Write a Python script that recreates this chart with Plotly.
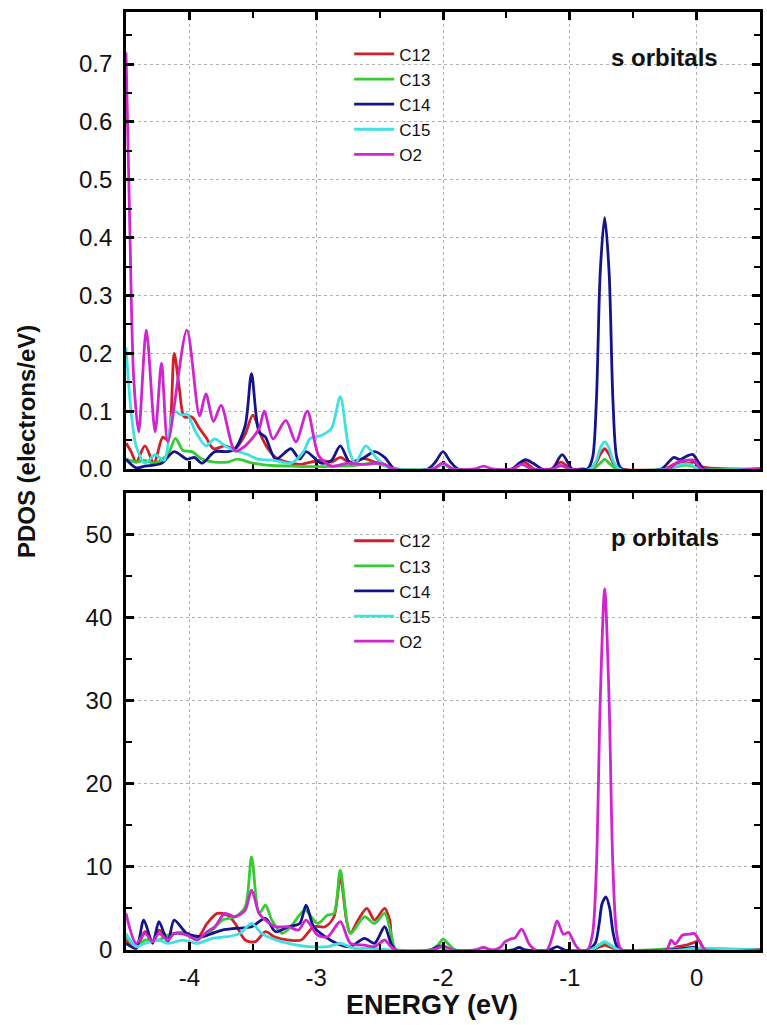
import plotly.graph_objects as go

# ---------------- s-orbital PDOS (electrons/eV) ----------------
s_c12_e = [-4.50, -4.46, -4.42, -4.35, -4.28, -4.21, -4.17, -4.12, -4.08, -4.04, -3.98, -3.92, -3.87, -3.81,
           -3.72, -3.64, -3.56, -3.50, -3.43, -3.38, -3.32, -3.20, -3.12, -3.04, -2.96, -2.88, -2.81, -2.74,
           -2.62, -2.54, -2.49, -2.42, -2.38,
           -2.08, -2.00, -1.93, -1.45, -1.36, -1.28, -1.15, -1.07, -0.99, -0.86, -0.80, -0.76, -0.725, -0.69,
           -0.65, -0.58, -0.25, -0.18, -0.12, -0.06, -0.02, 0.03, 0.50]
s_c12_v = [0.045, 0.03, 0.012, 0.04, 0.01, 0.055, 0.05, 0.20, 0.14, 0.09, 0.09, 0.07, 0.055, 0.035,
           0.04, 0.035, 0.06, 0.093, 0.055, 0.035, 0.02, 0.01, 0.008, 0.012, 0.015, 0.012, 0.02, 0.012,
           0.018, 0.012, 0.01, 0.003, 0.0,
           0.0, 0.01, 0.0, 0.0, 0.012, 0.0, 0.0, 0.012, 0.0, 0.0, 0.008, 0.025, 0.035, 0.025,
           0.008, 0.0, 0.0, 0.008, 0.012, 0.01, 0.012, 0.004, 0.0]

s_c13_e = [-4.50, -4.42, -4.35, -4.28, -4.17, -4.11, -4.05, -3.98, -3.90, -3.80, -3.70, -3.62, -3.50, -3.35,
           -3.20, -3.00, -2.85, -2.70, -2.55, -2.45, -2.38,
           -2.08, -2.00, -1.92, -0.82, -0.76, -0.725, -0.69, -0.63, -0.22, -0.12, -0.05, 0.02, 0.50]
s_c13_v = [0.017, 0.012, 0.015, 0.01, 0.025, 0.053, 0.032, 0.03, 0.017, 0.012, 0.012, 0.017, 0.01, 0.006,
           0.005, 0.004, 0.005, 0.006, 0.01, 0.005, 0.0,
           0.0, 0.008, 0.0, 0.0, 0.01, 0.017, 0.01, 0.0, 0.0, 0.006, 0.006, 0.0, 0.0]

s_c14_e = [-4.50, -4.42, -4.35, -4.22, -4.12, -4.02, -3.96, -3.90, -3.80, -3.70, -3.64, -3.56, -3.51, -3.45,
           -3.40, -3.32, -3.20, -3.13, -3.08, -2.96, -2.88, -2.81, -2.73, -2.62, -2.54, -2.46, -2.38,
           -2.12, -2.06, -2.00, -1.94, -1.88, -1.46, -1.40, -1.35, -1.29, -1.22, -1.14, -1.06, -0.98,
           -0.90, -0.86, -0.82, -0.79, -0.76, -0.725, -0.69, -0.66, -0.63, -0.59,
           -0.28, -0.22, -0.18, -0.13, -0.08, -0.03, 0.02, 0.06, 0.50]
s_c14_v = [0.017, 0.002, 0.005, 0.01, 0.03, 0.017, 0.02, 0.01, 0.03, 0.03, 0.035, 0.075, 0.165, 0.064,
           0.055, 0.017, 0.035, 0.017, 0.03, 0.01, 0.015, 0.04, 0.01, 0.02, 0.03, 0.02, 0.0,
           0.0, 0.012, 0.03, 0.012, 0.0, 0.0, 0.01, 0.016, 0.01, 0.0, 0.0, 0.025, 0.0,
           0.0, 0.0, 0.02, 0.12, 0.34, 0.435, 0.34, 0.12, 0.02, 0.0,
           0.0, 0.012, 0.02, 0.016, 0.022, 0.025, 0.01, 0.0, 0.0]

s_c15_e = [-4.50, -4.46, -4.42, -4.35, -4.27, -4.20, -4.12, -4.06, -4.02, -3.95, -3.87, -3.80, -3.72, -3.64,
           -3.54, -3.46, -3.33, -3.20, -3.10, -3.05, -2.96, -2.88, -2.81, -2.74, -2.69, -2.61, -2.52, -2.45,
           -2.38,
           -2.08, -2.00, -1.92, -0.84, -0.79, -0.755, -0.725, -0.695, -0.66, -0.61, -0.22, -0.12, -0.05,
           0.02, 0.50]
s_c15_v = [0.21, 0.10, 0.04, 0.01, 0.025, 0.015, 0.10, 0.093, 0.095, 0.064, 0.04, 0.052, 0.04, 0.032,
           0.025, 0.017, 0.015, 0.01, 0.03, 0.052, 0.058, 0.07, 0.125, 0.032, 0.01, 0.04, 0.018, 0.005,
           0.0,
           0.0, 0.008, 0.0, 0.0, 0.015, 0.038, 0.047, 0.038, 0.015, 0.0, 0.0, 0.008, 0.008,
           0.0, 0.0]

s_o2_e = [-4.50, -4.47, -4.44, -4.40, -4.34, -4.27, -4.22, -4.17, -4.02, -3.92, -3.87, -3.81, -3.75, -3.64,
          -3.56, -3.45, -3.41, -3.34, -3.24, -3.16, -3.07, -2.98, -2.88, -2.75, -2.62, -2.52, -2.46, -2.39,
          -2.08, -2.00, -1.92, -1.75, -1.68, -1.61, -1.45, -1.38, -1.30, -1.14, -1.07, -1.00,
          -0.22, -0.15, -0.08, -0.02, 0.04, 0.50]
s_o2_v = [0.72, 0.42, 0.16, 0.064, 0.24, 0.064, 0.183, 0.047, 0.24, 0.092, 0.13, 0.082, 0.11, 0.031,
          0.04, 0.07, 0.10, 0.052, 0.084, 0.047, 0.10, 0.023, 0.005, 0.01, 0.008, 0.01, 0.008, 0.0,
          0.0, 0.01, 0.0, 0.0, 0.005, 0.0, 0.0, 0.008, 0.0, 0.0, 0.006, 0.0,
          0.0, 0.012, 0.015, 0.015, 0.0, 0.0]

# ---------------- p-orbital PDOS (electrons/eV) ----------------
p_c12_e = [-4.50, -4.42, -4.35, -4.29, -4.24, -4.17, -4.12, -4.02, -3.94, -3.86, -3.78, -3.70, -3.64, -3.56,
           -3.48, -3.40, -3.33, -3.22, -3.12, -3.02, -2.93, -2.86, -2.81, -2.76, -2.73, -2.67, -2.60, -2.54,
           -2.46, -2.42, -2.38,
           -2.08, -2.00, -1.92, -0.84, -0.76, -0.725, -0.69, -0.62, -0.22, -0.15, -0.08, -0.02, 0.02, 0.06,
           0.50]
p_c12_v = [1.2, 0.2, 2.2, 1.0, 2.4, 1.6, 2.0, 2.0, 1.4, 3.2, 4.4, 4.2, 3.2, 1.2,
           1.0, 2.2, 1.6, 1.2, 1.2, 2.8, 2.8, 4.0, 8.8, 3.5, 2.0, 3.6, 5.0, 3.6,
           5.0, 3.6, 0.0,
           0.0, 0.4, 0.0, 0.0, 0.4, 0.6, 0.4, 0.0, 0.0, 0.4, 0.6, 0.9, 1.1, 0.0,
           0.0]

p_c13_e = [-4.50, -4.42, -4.35, -4.24, -4.17, -4.05, -3.94, -3.82, -3.74, -3.64, -3.56, -3.51, -3.45, -3.40,
           -3.35, -3.27, -3.20, -3.09, -2.99, -2.91, -2.86, -2.81, -2.73, -2.62, -2.54, -2.46, -2.41, -2.37,
           -2.10, -2.04, -2.00, -1.95, -1.90, -0.84, -0.77, -0.725, -0.68, -0.61, -0.15, -0.05, 0.50]
p_c13_v = [1.6, 0.4, 1.2, 1.2, 1.8, 2.0, 1.4, 2.4, 3.6, 4.0, 5.2, 11.2, 4.4, 5.4,
           3.6, 2.0, 2.8, 4.8, 3.2, 4.2, 4.4, 9.6, 2.0, 4.0, 3.2, 4.4, 2.0, 0.0,
           0.0, 0.6, 1.3, 0.6, 0.0, 0.0, 0.6, 0.9, 0.6, 0.0, 0.2, 0.2, 0.0]

p_c14_e = [-4.50, -4.42, -4.36, -4.29, -4.24, -4.17, -4.12, -4.02, -3.90, -3.82, -3.74, -3.64, -3.51, -3.40,
           -3.32, -3.22, -3.13, -3.08, -3.02, -2.93, -2.84, -2.73, -2.62, -2.54, -2.46, -2.41, -2.37,
           -2.10, -2.02, -1.95, -1.45, -1.40, -1.35, -1.16, -1.10, -1.04,
           -0.86, -0.80, -0.77, -0.745, -0.715, -0.685, -0.66, -0.63, -0.59,
           -0.22, -0.10, -0.02, 0.04, 0.50]
p_c14_v = [0.8, 0.2, 3.6, 0.8, 3.4, 1.0, 3.6, 2.0, 1.6, 2.0, 2.4, 2.6, 2.8, 3.8,
           2.2, 2.8, 3.2, 5.4, 2.8, 1.6, 0.8, 0.4, 1.4, 0.8, 2.8, 0.8, 0.0,
           0.0, 0.5, 0.0, 0.0, 0.3, 0.0, 0.0, 0.4, 0.0,
           0.0, 0.8, 3.0, 5.6, 6.4, 5.0, 2.2, 0.5, 0.0,
           0.0, 0.2, 0.3, 0.0, 0.0]

p_c15_e = [-4.50, -4.42, -4.35, -4.24, -4.17, -4.05, -3.94, -3.82, -3.70, -3.60, -3.51, -3.43, -3.32, -3.22,
           -3.05, -2.91, -2.81, -2.70, -2.55, -2.40,
           -2.08, -2.00, -1.92, -0.84, -0.77, -0.725, -0.68, -0.61, -0.12, -0.03, 0.50]
p_c15_v = [2.0, 0.4, 0.8, 1.2, 0.8, 1.2, 0.8, 1.4, 1.6, 2.0, 3.2, 2.0, 1.2, 0.8,
           0.4, 0.4, 0.8, 0.2, 0.2, 0.0,
           0.0, 0.3, 0.0, 0.0, 0.6, 1.0, 0.6, 0.0, 0.0, 0.2, 0.0]

p_o2_e = [-4.50, -4.42, -4.35, -4.29, -4.24, -4.17, -4.12, -4.02, -3.94, -3.86, -3.80, -3.72, -3.64, -3.56,
          -3.51, -3.45, -3.40, -3.32, -3.22, -3.14, -3.08, -2.99, -2.91, -2.81, -2.73, -2.62, -2.54, -2.46,
          -2.41, -2.37,
          -2.08, -2.00, -1.92, -1.75, -1.68, -1.61, -1.55, -1.51, -1.47, -1.43, -1.38, -1.32, -1.27,
          -1.18, -1.14, -1.10, -1.05, -1.01, -0.96, -0.92,
          -0.86, -0.82, -0.79, -0.76, -0.725, -0.69, -0.66, -0.63, -0.59,
          -0.24, -0.20, -0.17, -0.11, -0.06, -0.02, 0.03, 0.07, 0.50]
p_o2_v = [4.4, 0.8, 2.0, 1.0, 2.0, 1.2, 2.0, 1.8, 1.2, 2.2, 2.8, 4.4, 4.0, 4.8,
          7.2, 4.4, 3.6, 2.8, 2.8, 2.4, 3.6, 1.8, 1.6, 3.4, 0.8, 0.6, 0.4, 1.2,
          0.4, 0.0,
          0.0, 0.5, 0.0, 0.0, 0.3, 0.0, 0.3, 1.0, 1.3, 1.5, 2.5, 0.7, 0.0,
          0.0, 1.5, 3.5, 1.9, 2.1, 0.7, 0.0,
          0.0, 2.0, 10.0, 30.0, 43.5, 30.0, 10.0, 2.0, 0.0,
          0.0, 1.2, 0.7, 1.8, 1.9, 2.0, 0.9, 0.0, 0.0]

atom_names = ["C12", "C13", "C14", "C15", "O2"]
atom_colors = ["#d0202a", "#33cc33", "#14148c", "#3ee0e0", "#d024d0"]

energy_ticks = [-4, -3, -2, -1, 0]
energy_tick_text = ["-4", "-3", "-2", "-1", "0"]

s_series = [(s_c12_e, s_c12_v), (s_c13_e, s_c13_v), (s_c14_e, s_c14_v), (s_c15_e, s_c15_v), (s_o2_e, s_o2_v)]
p_series = [(p_c12_e, p_c12_v), (p_c13_e, p_c13_v), (p_c14_e, p_c14_v), (p_c15_e, p_c15_v), (p_o2_e, p_o2_v)]

FONT = "Liberation Sans, Arial, sans-serif"

fig = go.Figure()

for name, color, (e, v) in zip(atom_names, atom_colors, s_series):
    fig.add_trace(go.Scatter(x=e, y=v, mode="lines", name=name, legend="legend",
                             line=dict(color=color, width=2.8, shape="spline", smoothing=0.8),
                             xaxis="x2", yaxis="y2"))

for name, color, (e, v) in zip(atom_names, atom_colors, p_series):
    fig.add_trace(go.Scatter(x=e, y=v, mode="lines", name=name, legend="legend2",
                             line=dict(color=color, width=2.8, shape="spline", smoothing=0.8),
                             xaxis="x", yaxis="y"))

axis_common = dict(
    showline=True, linewidth=2.8, linecolor="black", mirror="ticks",
    ticks="inside", ticklen=8, tickwidth=2.6, tickcolor="black",
    showgrid=True, gridcolor="#b0b0b0", griddash="dot", gridwidth=1,
    zeroline=False,
    tickfont=dict(family=FONT, size=24, color="#111"),
)
minor_common = dict(ticks="inside", ticklen=6, tickwidth=2.4, tickcolor="black", showgrid=False)

fig.update_layout(
    width=767, height=1025,
    margin=dict(l=126, r=4, t=12, b=75),
    paper_bgcolor="white", plot_bgcolor="white",
    font=dict(family=FONT, color="#111"),
    xaxis=dict(axis_common, range=[-4.5, 0.5], tickmode="array", tickvals=energy_ticks,
               ticktext=energy_tick_text, ticklabelstandoff=4,
               minor=dict(minor_common, dtick=0.5, tick0=0),
               anchor="y", domain=[0, 1]),
    xaxis2=dict(axis_common, range=[-4.5, 0.5], tickmode="array", tickvals=energy_ticks,
                ticktext=energy_tick_text, showticklabels=False, layer="below traces",
                minor=dict(minor_common, dtick=0.5, tick0=0),
                anchor="y2", matches="x"),
    yaxis=dict(axis_common, range=[0, 55], dtick=10, tick0=0, ticklabelstandoff=6,
               minor=dict(minor_common, dtick=5),
               domain=[0, 0.4872], anchor="x"),
    yaxis2=dict(axis_common, range=[0, 0.79], dtick=0.1, tick0=0, tickformat=".1f", ticklabelstandoff=6,
                minor=dict(minor_common, dtick=0.05),
                domain=[0.5128, 1], anchor="x2"),
    legend=dict(x=0.352, y=0.974, xanchor="left", yanchor="top", bgcolor="rgba(0,0,0,0)",
                font=dict(family=FONT, size=17, color="#111"), tracegroupgap=0, itemwidth=40),
    legend2=dict(x=0.352, y=0.455, xanchor="left", yanchor="top", bgcolor="rgba(0,0,0,0)",
                 font=dict(family=FONT, size=17, color="#111"), tracegroupgap=0, itemwidth=40),
    annotations=[
        dict(text="<b>s orbitals</b>", x=0.85, y=0.952, xref="paper", yref="paper",
             xanchor="center", yanchor="middle",
             showarrow=False, font=dict(family=FONT, size=24, color="#111")),
        dict(text="<b>p orbitals</b>", x=0.85, y=0.440, xref="paper", yref="paper",
             xanchor="center", yanchor="middle",
             showarrow=False, font=dict(family=FONT, size=24, color="#111")),
        dict(text="<b>PDOS (electrons/eV)</b>", x=-0.156, y=0.5416, xref="paper", yref="paper",
             xanchor="center", yanchor="middle", textangle=-90,
             showarrow=False, font=dict(family=FONT, size=24, color="#111")),
        dict(text="<b>ENERGY (eV)</b>", x=0.482, y=-0.0585, xref="paper", yref="paper",
             xanchor="center", yanchor="middle",
             showarrow=False, font=dict(family=FONT, size=27, color="#111")),
    ],
)

fig.write_html("out.html")
